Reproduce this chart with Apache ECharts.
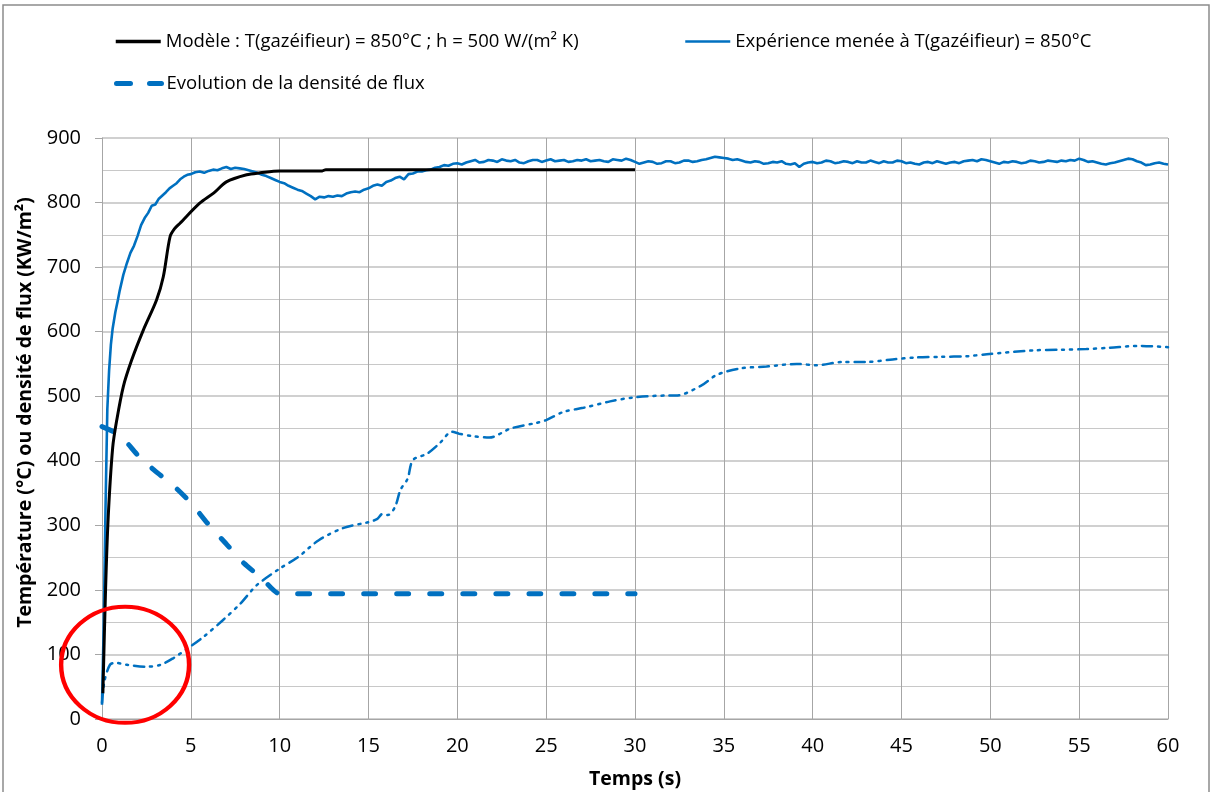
<!DOCTYPE html>
<html><head><meta charset="utf-8">
<script src="https://cdn.jsdelivr.net/npm/echarts@6/dist/echarts.min.js"></script>
<style>html,body{margin:0;padding:0;background:#fff}#c{width:1212px;height:792px}</style>
</head><body><div id="c"></div>
<script>
const seriesNames = [
  'Modèle : T(gazéifieur) = 850°C ; h = 500 W/(m² K)',
  'Expérience menée à T(gazéifieur) = 850°C',
  'Evolution de la densité de flux',
  'Densité de flux (expérience)'
];
const xTicks = [0,5,10,15,20,25,30,35,40,45,50,55,60];
const yTicks = [0,100,200,300,400,500,600,700,800,900];

const modelData = [[0.05,40],[0.2,200],[0.35,313],[0.6,420],[0.83,463],[1.2,515],[1.67,556],[2.32,602],[3.07,649],[3.45,685],[3.83,747],[4.1,760],[4.39,768],[5.5,799],[6.3,815],[7.0,832],[8.14,843],[8.9,846],[10,849],[10.76,849],[12.4,849],[12.6,851],[30,851]];

const expData = [[0,22],[0.1,150],[0.2,330],[0.3,480],[0.4,540],[0.5,580],[0.6,605],[0.75,630],[0.9,650],[1.0,664],[1.2,688],[1.4,706],[1.6,722],[1.8,733],[2.0,748],[2.2,765],[2.4,776],[2.6,784],[2.8,795],[3.0,797],[3.2,806],[3.4,811],[3.6,816],[3.8,822],[4.0,826],[4.2,830],[4.4,836],[4.6,840],[4.8,843],[5.0,844],[5.25,847],[5.5,848],[5.75,846],[6.0,849],[6.25,851],[6.5,850],[6.75,853],[7.0,855],[7.25,852],[7.5,854],[7.75,853],[8.0,852],[8.25,850],[8.5,848],[8.75,846],[9.0,843],[9.25,841],[9.5,838],[9.75,835],[10,832],[10.25,830],[10.5,826],[10.75,823],[11,820],[11.25,818],[11.5,814],[11.75,810],[12.0,805],[12.25,809],[12.5,808],[12.75,810],[13.0,809],[13.25,811],[13.5,810],[13.75,814],[14,816],[14.25,817],[14.5,816],[14.75,820],[15,822],[15.25,826],[15.5,828],[15.75,826],[16,832],[16.25,834],[16.5,838],[16.75,840],[17,836],[17.25,844],[17.5,845],[17.75,848],[18,848],[18.25,850],[18.5,851],[18.75,854],[19,855],[19.25,858],[19.5,857],[19.75,860],[20,861],[20.25,859],[20.5,862],[20.75,864],[21,866],[21.25,862],[21.5,863],[21.75,866],[22,865],[22.25,863],[22.5,867],[22.75,865],[23,864],[23.25,866],[23.5,862],[23.75,861],[24,864],[24.25,866],[24.5,866],[24.75,863],[25,865],[25.25,867],[25.5,864],[25.75,865],[26,866],[26.25,863],[26.5,864],[26.75,866],[27,865],[27.25,867],[27.5,864],[27.75,865],[28,866],[28.25,864],[28.5,863],[28.75,867],[29,866],[29.25,865],[29.5,868],[29.75,866],[30,863],[30.25,860],[30.5,862],[30.75,864],[31,863],[31.25,860],[31.5,861],[31.75,864],[32,864],[32.25,861],[32.5,862],[32.75,865],[33,865],[33.25,863],[33.5,864],[33.75,866],[34,867],[34.25,869],[34.5,871],[34.75,870],[35,869],[35.25,868],[35.5,866],[35.75,867],[36,865],[36.25,863],[36.5,862],[36.75,864],[37,863],[37.25,860],[37.5,861],[37.75,863],[38,862],[38.25,864],[38.5,860],[38.75,859],[39,861],[39.25,855],[39.5,860],[39.75,862],[40,863],[40.25,861],[40.5,862],[40.75,865],[41,864],[41.25,861],[41.5,862],[41.75,864],[42,863],[42.25,861],[42.5,864],[42.75,862],[43,862],[43.25,865],[43.5,863],[43.75,861],[44,864],[44.25,862],[44.5,862],[44.75,865],[45,864],[45.25,861],[45.5,862],[45.75,860],[46,859],[46.25,862],[46.5,863],[46.75,861],[47,864],[47.25,862],[47.5,860],[47.75,862],[48,863],[48.25,861],[48.5,864],[48.75,865],[49,866],[49.25,864],[49.5,867],[49.75,866],[50,864],[50.25,862],[50.5,860],[50.75,863],[51,862],[51.25,864],[51.5,863],[51.75,861],[52,862],[52.25,865],[52.5,864],[52.75,862],[53,863],[53.25,865],[53.5,864],[53.75,863],[54,865],[54.25,864],[54.5,866],[54.75,865],[55,868],[55.25,866],[55.5,863],[55.75,864],[56,862],[56.25,860],[56.5,859],[56.75,861],[57,862],[57.25,864],[57.5,866],[57.75,868],[58,867],[58.25,864],[58.5,862],[58.75,858],[59,859],[59.25,861],[59.5,862],[59.75,860],[60,859]];

const fluxModelData = [[0,453],[1,440],[2,409],[3,384],[4,362],[5,335],[6,301],[7,271],[8,241],[9,218],[10,194],[30,194]];

const fluxExpData = [[0,25],[0.15,60],[0.45,84],[0.75,87],[1.4,84],[2.5,81],[3.3,84],[4.0,94],[4.8,109],[5.7,127],[6.8,153],[7.8,179],[8.7,207],[10,233],[11,250],[12.2,277],[13.6,296],[15,305],[15.5,310],[15.8,318],[16.1,316],[16.5,329],[16.8,355],[17.2,372],[17.5,401],[18.3,411],[19,427],[19.7,445],[20.1,442],[20.9,438],[21.8,436],[23,450],[24.5,459],[25,463],[26,476],[27.1,482],[28.6,492],[29.9,498],[31.8,501],[32.3,501],[33.7,516],[34.6,533],[35.9,543],[37.4,546],[39.1,550],[40.2,548],[41.7,553],[43,553],[44.5,557],[45.8,560],[47.2,561],[48.7,562],[49.8,565],[52.4,571],[54,572],[55.4,573],[56.7,575],[58.4,578],[60,576]];

const annotationCenter = [1.3, 84];

const FONT = 'Open Sans';
const BLUE = '#0070C0';
const chart = echarts.init(document.getElementById('c'), null, {renderer:'canvas'});
const legendText = {fontFamily: FONT, fontSize: 18.5, color: '#000'};
const legendCommon = {itemWidth: 45, itemHeight: 14, textStyle: legendText, itemStyle: {opacity: 0}};
const option = {
  animation: false,
  backgroundColor: '#fff',
  grid: {left: 102, right: 44, top: 138, bottom: 73, containLabel: false, outerBoundsMode: 'none'},
  legend: [
    Object.assign({data:[seriesNames[0]], left: 109, top: 27, lineStyle: {width: 3.5, color: '#000'}}, legendCommon),
    Object.assign({data:[seriesNames[1]], left: 679, top: 27, lineStyle: {width: 2.5, color: BLUE}}, legendCommon),
    Object.assign({data:[seriesNames[2]], left: 109, top: 69, lineStyle: {width: 5, color: BLUE, type: [14, 19], cap: 'round'}}, legendCommon)
  ],
  xAxis: {
    type: 'value', min: 0, max: 60, interval: 5,
    name: 'Temps (s)', nameLocation: 'middle', nameGap: 50,
    nameTextStyle: {fontFamily: FONT, fontSize: 19.5, fontWeight: 'bold', color: '#000'},
    axisLine: {show: true, lineStyle: {color: '#a6a6a6', width: 1}},
    axisTick: {show: false},
    axisLabel: {fontFamily: FONT, fontSize: 20, color: '#000', margin: 17},
    splitLine: {show: true, lineStyle: {color: '#a6a6a6', width: 1}}
  },
  yAxis: {
    type: 'value', min: 0, max: 900, interval: 100,
    name: 'Température (°C) ou densité de flux (KW/m²)', nameLocation: 'middle', nameGap: 65, nameRotate: 90,
    nameTextStyle: {fontFamily: FONT, fontSize: 19.5, fontWeight: 'bold', color: '#000', padding: [0, 0, 0, 32]},
    axisLine: {show: true, lineStyle: {color: '#a6a6a6', width: 1}},
    axisTick: {show: true, length: 7, lineStyle: {color: '#a6a6a6'}},
    axisLabel: {fontFamily: FONT, fontSize: 20, color: '#000', margin: 21},
    splitLine: {show: true, lineStyle: {color: '#c0c0c0', width: 1.5}},
    minorTick: {show: false, splitNumber: 2},
    minorSplitLine: {show: true, lineStyle: {color: '#c8c8c8', width: 1}}
  },
  series: [
    {name: seriesNames[0], type: 'line', data: modelData, symbol: 'none', smooth: 0.3,
     lineStyle: {color: '#000', width: 3}, itemStyle: {color: '#000'}, z: 4},
    {name: seriesNames[1], type: 'line', data: expData, symbol: 'none',
     lineStyle: {color: BLUE, width: 2.6}, itemStyle: {color: BLUE}, z: 3},
    {name: seriesNames[2], type: 'line', data: fluxModelData, symbol: 'none', smooth: 0.2,
     lineStyle: {color: BLUE, width: 5, type: [12, 21], cap: 'round'}, itemStyle: {color: BLUE}, z: 3},
    {name: seriesNames[3], type: 'line', data: fluxExpData, symbol: 'none', smooth: 0.3,
     lineStyle: {color: BLUE, width: 2.5, type: [10, 6, 2, 6, 2, 6], cap: 'round'}, itemStyle: {color: BLUE}, z: 3}
  ]
};
chart.setOption(option);
const c = chart.convertToPixel({gridIndex: 0}, annotationCenter);
const ry = chart.convertToPixel({gridIndex: 0}, [0, 0])[1] - chart.convertToPixel({gridIndex: 0}, [0, 90])[1];
const rx = chart.convertToPixel({gridIndex: 0}, [3.6, 0])[0] - chart.convertToPixel({gridIndex: 0}, [0, 0])[0];
chart.setOption({
  graphic: [
    {type: 'rect', shape: {x: 3, y: 5, width: 1206, height: 800}, style: {fill: 'none', stroke: '#8c8c8c', lineWidth: 1.5}, z: 0, silent: true},
    {type: 'circle', x: c[0], y: c[1], scaleX: rx / ry, scaleY: 1, shape: {cx: 0, cy: 0, r: ry},
     style: {fill: 'none', stroke: '#ff0000', lineWidth: 4}, z: 100, silent: true}
  ]
});
</script>
</body></html>
